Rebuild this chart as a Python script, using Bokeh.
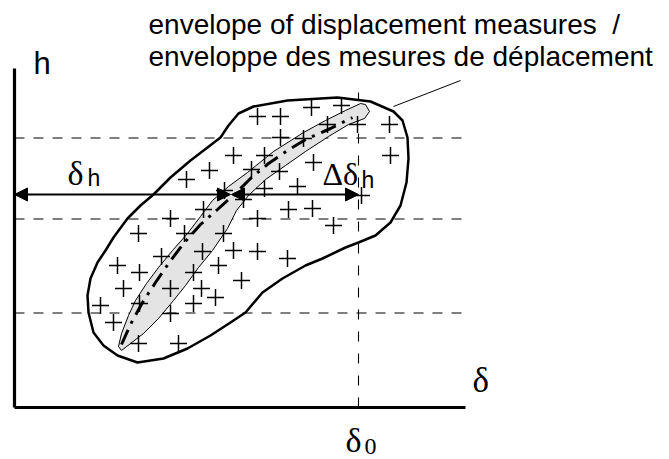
from bokeh.plotting import figure
from bokeh.models import Range1d, Arrow, NormalHead
from bokeh.core.properties import value
from bokeh.embed import file_html
from bokeh.resources import INLINE

# --- diagram data (delta along x, h along y; origin at axis corner) ---
# individual displacement measures
meas_delta = [243, 266, 297, 327, 313, 343, 375, 266, 289, 376, 219, 250, 299,
              195, 172, 237, 265, 250, 283, 210, 229, 347, 189, 274, 298, 319,
              156, 243, 124, 170, 209, 147, 188, 219, 243, 273, 103, 125, 179,
              204, 227, 109, 156, 187, 201, 86, 125, 179, 156, 99, 124, 164]
meas_h = [291, 291, 300, 302, 283, 283, 283, 270, 269, 252, 252, 252, 245,
          237, 228, 238, 236, 219, 221, 217, 208, 212, 198, 198, 199, 182,
          189, 189, 174, 174, 174, 151, 156, 157, 156, 149, 142, 135, 135,
          142, 127, 119, 119, 119, 110, 102, 104, 104, 94, 85, 64, 64]

# envelope of the measures (closed outline)
env_delta = [99, 113, 126, 139, 156, 176, 193, 206, 214, 224, 239, 273, 323,
             356, 379, 388, 393, 394, 392, 386, 376, 361, 344, 331, 308, 291,
             268, 248, 231, 216, 196, 173, 149, 123, 103, 89, 79, 74, 73, 76,
             83, 91]
env_h = [170, 189, 202, 213, 230, 247, 260, 270, 282, 294, 301, 307, 310,
         306, 296, 287, 270, 249, 225, 202, 185, 172, 165, 160, 149, 142,
         129, 115, 95, 85, 72, 59, 49, 45, 52, 62, 75, 95, 112, 129, 145, 157]

# reference band around the mean curve
band_delta = [104, 107, 114, 121, 132, 144, 158, 173, 186, 198, 214, 233, 259,
              289, 311, 331, 346, 351, 355, 350, 334, 314, 291, 271, 251, 234,
              222, 213, 198, 184, 171, 159, 144, 129, 116, 107]
band_h = [61, 74, 92, 107, 124, 140, 157, 174, 191, 207, 221, 235, 256,
          275, 287, 297, 304, 303, 296, 289, 283, 271, 256, 242, 228, 212,
          197, 179, 157, 140, 122, 107, 89, 74, 64, 57]

# mean curve (dash-dot)
mean_delta = [107, 117, 128, 141, 154, 169, 186, 203, 221, 236, 254, 273,
              293, 316, 338]
mean_h = [63, 85, 105, 125, 144, 164, 183, 198, 214, 229, 244, 257, 269,
          279, 290]

# reference levels and displacement delta_0
levels_h = [269.5, 188.5, 94.5]
level_delta_end = 456
delta_0 = 344
delta_0_top = 315

# axes extents
axis_delta_end = 451
axis_h_end = 339

# displacement at level h and its increment
arrow_h = 213
delta_h = 216
delta_h_start = 217

# leader line to the envelope caption
leader_delta = [379, 446]
leader_h = [301, 327]

sans = value("Liberation Sans")
serif = value("Liberation Serif")

p = figure(width=669, height=459,
           x_range=Range1d(-14, 655), y_range=Range1d(-52, 407),
           output_backend="svg", toolbar_location=None,
           x_axis_location=None, y_axis_location=None,
           min_border=0, background_fill_color="white",
           border_fill_color="white")
p.grid.visible = False
p.outline_line_color = None

# dashed reference levels
for lv in levels_h:
    p.line([0, level_delta_end], [lv, lv], line_color="black",
           line_width=1.2, line_dash="10 9")
# dashed vertical at delta_0
p.line([delta_0, delta_0], [0, delta_0_top], line_color="black",
       line_width=1.1, line_dash="10 12")

# envelope
p.patch(env_delta, env_h, fill_color=None, line_color="black",
        line_width=2.5, line_join="round")

# band and mean curve
p.patch(band_delta, band_h, fill_color="#e4e4e4", line_color="black",
        line_width=1.0)
p.line(mean_delta, mean_h, line_color="black", line_width=3,
       line_dash="16 7 3 7")

# measures
p.scatter(meas_delta, meas_h, marker="cross", size=17, line_color="black",
          line_width=1.5)

# axes
p.line([0, axis_delta_end], [0, 0], line_color="black", line_width=3.2)
p.line([0, 0], [0, axis_h_end], line_color="black", line_width=3.2)

# arrows
def head():
    return NormalHead(size=13, fill_color="black", line_color="black")

p.add_layout(Arrow(x_start=0, y_start=arrow_h, x_end=delta_h, y_end=arrow_h,
                   line_width=2, start=head(), end=head()))
p.add_layout(Arrow(x_start=delta_h_start, y_start=arrow_h, x_end=delta_0,
                   y_end=arrow_h, line_width=2, start=head(), end=head()))

# leader line
p.line(leader_delta, leader_h, line_color="black", line_width=1)

# texts
p.text([134], [383], text=["envelope of displacement measures\u00a0\u00a0/"],
       text_font=sans, text_font_size="28px", text_baseline="alphabetic")
p.text([134], [351], text=["enveloppe des mesures de déplacement"],
       text_font=sans, text_font_size="28px", text_baseline="alphabetic")
p.text([19], [344], text=["h"], text_font=sans, text_font_size="31px",
       text_baseline="alphabetic")
p.text([53], [234], text=["δ"], text_font=serif, text_font_size="34px",
       text_baseline="alphabetic")
p.text([73], [230], text=["h"], text_font=sans, text_font_size="23px",
       text_baseline="alphabetic")
p.text([308], [234], text=["Δδ"], text_font=serif, text_font_size="32px",
       text_baseline="alphabetic")
p.text([347], [228], text=["h"], text_font=sans, text_font_size="23px",
       text_baseline="alphabetic")
p.text([458], [27], text=["δ"], text_font=serif, text_font_size="35px",
       text_baseline="alphabetic")
p.text([331], [-33], text=["δ"], text_font=serif, text_font_size="34px",
       text_baseline="alphabetic")
p.text([350], [-39], text=["0"], text_font=serif, text_font_size="24px",
       text_baseline="alphabetic")

open("out.html", "w").write(file_html(p, INLINE))
